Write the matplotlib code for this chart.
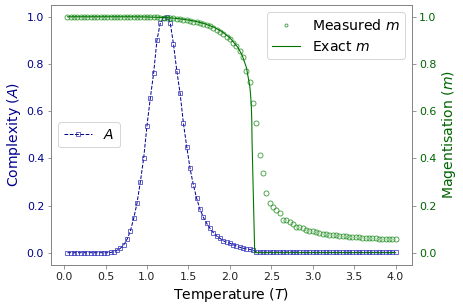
import numpy as np
import matplotlib
matplotlib.use('Agg')
import matplotlib.pyplot as plt

# temperature grid (0.04 .. 4.00)
T = np.round(np.arange(1, 101) * 0.04, 2)

# complexity A
A = [0.0] * 13 + [0.001, 0.004, 0.011, 0.019, 0.033, 0.057, 0.092, 0.146, 0.21, 0.30, 0.40,
     0.538, 0.654, 0.76, 0.90, 0.972, 0.997, 1.0, 0.975, 0.884, 0.771, 0.675, 0.548,
     0.449, 0.357, 0.287, 0.23, 0.184, 0.150, 0.125, 0.103, 0.085, 0.071, 0.061, 0.051,
     0.044, 0.040, 0.034, 0.028, 0.023, 0.019, 0.016, 0.014, 0.010, 0.004] + [0.003] * 12 + [0.002] * 30

# measured magnetisation
m_meas = [1.0] * 25 + [0.999, 0.998, 0.998, 0.997, 0.996, 0.995, 0.994, 0.993, 0.991, 0.990,
          0.988, 0.985, 0.983, 0.980, 0.977, 0.973, 0.969, 0.964, 0.959, 0.952, 0.946,
          0.937, 0.928, 0.916, 0.904, 0.890, 0.875, 0.855, 0.830, 0.771, 0.725, 0.636,
          0.548, 0.414, 0.339, 0.252, 0.212, 0.195, 0.183, 0.169, 0.137, 0.139, 0.131,
          0.123, 0.110, 0.107, 0.103, 0.096, 0.094, 0.090, 0.086, 0.082, 0.080, 0.078,
          0.076, 0.074, 0.073, 0.071, 0.070, 0.069, 0.068, 0.067, 0.066, 0.065, 0.064,
          0.063, 0.062, 0.061, 0.061, 0.060, 0.059, 0.058, 0.058, 0.057, 0.056]

# exact (Onsager) magnetisation
T_exact = [0.04, 0.8, 1.0, 1.2, 1.3, 1.4, 1.5, 1.6, 1.7, 1.8, 1.9, 2.0, 2.1, 2.15, 2.2,
           2.24, 2.25, 2.26, 2.265, 2.268, 2.30, 4.0]
m_exact = [1.0, 1.0, 0.9993, 0.997, 0.9948, 0.9914, 0.9863, 0.9796, 0.9701, 0.9569, 0.9383,
           0.9113, 0.8688, 0.8357, 0.7848, 0.7074, 0.6718, 0.6136, 0.5551, 0.4718, 0.0, 0.0]

blue = 'darkblue'
green = 'darkgreen'

fig = plt.figure(figsize=(463 / 72, 307 / 72), dpi=72)
ax1 = fig.add_axes([51 / 463, 1 - 264.5 / 307, 361 / 463, 259.5 / 307])
ax2 = ax1.twinx()

ax1.plot(T, A, 's--', color=blue, lw=1, ms=4, mfc='none', mec=(0.2, 0.2, 0.75, 0.8), mew=0.9, label='$A$')
ax2.plot(T, m_meas, 'o', color=(0.1, 0.55, 0.1, 0.8), ms=5, mfc='none', mew=0.9, label='Measured $m$')
ax2.plot(T_exact, m_exact, '-', color='#007400', lw=1.1, label='Exact $m$')

ax1.set_xlabel('Temperature ($T$)', fontsize=14)
ax1.set_ylabel('Complexity ($A$)', fontsize=14, color=blue)
ax2.set_ylabel('Magentisation ($m$)', fontsize=14, color=green)

ax1.set_xticks(np.arange(0, 4.01, 0.5))
ax1.set_yticks(np.arange(0, 1.01, 0.2))
ax2.set_yticks(np.arange(0, 1.01, 0.2))
ax1.tick_params(axis='x', labelsize=11, colors='gray', labelcolor='#222222')
ax1.tick_params(axis='y', labelsize=11, colors='gray', labelcolor=blue)
ax2.tick_params(axis='y', labelsize=11, colors='gray', labelcolor=green)
for ax in (ax1, ax2):
    for s in ax.spines.values():
        s.set_color('gray')

ax1.legend(loc='center left', fontsize=14)
ax2.legend(loc='upper right', fontsize=14, markerscale=0.6)

fig.savefig('out.png', dpi=72)
